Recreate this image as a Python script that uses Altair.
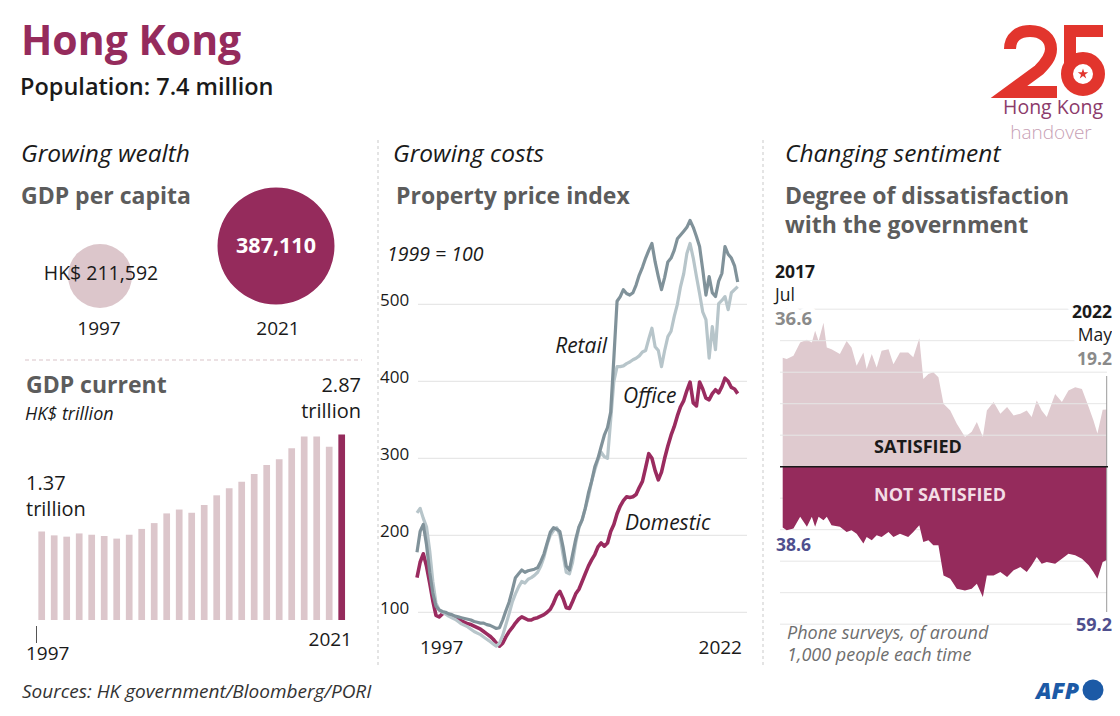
import altair as alt
import pandas as pd

# ---------------------------------------------------------------- data
gdp_pc_years = [1997, 2021]
gdp_pc_values = [211592, 387110]

gdp_years = list(range(1997, 2022))
gdp_trillion = [1.37, 1.31, 1.29, 1.34, 1.32, 1.30, 1.26, 1.32, 1.41, 1.50,
                1.65, 1.71, 1.66, 1.78, 1.93, 2.04, 2.14, 2.26, 2.40, 2.49,
                2.66, 2.84, 2.84, 2.68, 2.87]

# quarterly observations, 1997 Q1 .. 2022 Q2
prop_dates = [f"{y}-{m:02d}-01" for y in range(1997, 2023) for m in (1, 4, 7, 10)][:102]
domestic = [145, 165, 176, 160, 138, 115, 96, 94, 98, 99, 97, 95,
            94, 92, 89, 87, 85, 84, 82, 80, 78, 75, 72, 69,
            65, 60, 56, 60, 68, 75, 80, 86, 91, 94, 92, 90,
            90, 92, 93, 95, 97, 100, 104, 112, 122, 127, 118, 106,
            105, 114, 124, 130, 140, 150, 160, 168, 175, 185, 190, 186,
            190, 205, 214, 228, 238, 245, 250, 249, 250, 253, 262, 270,
            288, 306, 300, 284, 272, 282, 300, 316, 330, 341, 355, 367,
            375, 388, 399, 372, 368, 399, 390, 378, 376, 384, 389, 385,
            393, 404, 400, 392, 390, 384]
retail = [178, 205, 214, 188, 152, 125, 108, 103, 101, 100, 98, 97,
          95, 94, 93, 92, 91, 90, 88, 87, 86, 86, 84, 83,
          81, 79, 80, 90, 102, 113, 128, 145, 150, 155, 152, 154,
          155, 156, 158, 166, 176, 190, 204, 210, 208, 205, 185, 160,
          155, 175, 195, 211, 220, 235, 255, 270, 289, 300, 315, 330,
          340, 360, 430, 504, 510, 519, 514, 512, 515, 525, 538, 548,
          560, 570, 579, 555, 536, 519, 535, 555, 560, 570, 585, 590,
          595, 600, 609, 600, 588, 575, 545, 512, 536, 515, 510, 530,
          540, 575, 565, 560, 550, 529]
office = [229, 235, 222, 211, 180, 140, 112, 103, 100, 98, 95, 93,
          91, 88, 85, 83, 81, 78, 75, 73, 71, 68, 65, 62,
          59, 56, 60, 70, 84, 98, 113, 124, 133, 140, 138, 143,
          145, 148, 152, 160, 172, 188, 200, 206, 210, 200, 175, 152,
          150, 165, 190, 210, 220, 235, 250, 270, 285, 298, 308, 302,
          300, 350, 400, 419, 419, 420, 423, 425, 428, 430, 433, 438,
          440, 455, 469, 445, 440, 419, 440, 458, 465, 484, 500, 523,
          540, 566, 579, 560, 536, 514, 490, 480, 430, 471, 441, 501,
          505, 510, 493, 515, 519, 523]
prop_grid = [100, 200, 300, 400, 500]

sent_dates = ["2017-07-01", "2017-07-23", "2017-08-29", "2017-10-05", "2017-11-11",
              "2017-12-08", "2017-12-26", "2018-01-14", "2018-02-10", "2018-02-28",
              "2018-03-26", "2018-05-11", "2018-06-17", "2018-07-14", "2018-08-11",
              "2018-09-17", "2018-10-05", "2018-11-02", "2018-11-29", "2018-12-26",
              "2019-02-02", "2019-03-01", "2019-04-06", "2019-05-21", "2019-06-18",
              "2019-07-21", "2019-08-12", "2019-09-09", "2019-10-06", "2019-11-03",
              "2019-12-01", "2020-01-07", "2020-02-12", "2020-03-28", "2020-05-04",
              "2020-06-01", "2020-07-04", "2020-07-26", "2020-09-01", "2020-10-08",
              "2020-11-14", "2020-12-20", "2021-01-26", "2021-03-02", "2021-03-29",
              "2021-04-26", "2021-05-23", "2021-06-20", "2021-08-05", "2021-09-11",
              "2021-10-17", "2021-11-23", "2021-12-30", "2022-02-05", "2022-03-03",
              "2022-03-25", "2022-04-23", "2022-05-15"]
satisfied = [36.6, 36.1, 37.2, 41.7, 42.6, 41.7, 45.6, 42.2, 48.3, 40.0,
             39.4, 37.8, 42.2, 40.0, 33.9, 38.3, 32.8, 37.8, 33.3, 38.9,
             39.4, 34.4, 38.3, 38.3, 36.7, 43.1, 29.4, 31.1, 31.7, 30.0,
             21.1, 18.9, 14.4, 10.0, 11.7, 15.0, 10.0, 18.9, 21.7, 17.8,
             20.0, 17.2, 17.8, 18.9, 16.7, 22.2, 18.9, 16.7, 24.4, 21.7,
             25.6, 26.7, 26.1, 20.0, 15.6, 11.1, 19.1, 19.2]
not_satisfied = [38.6, 40.3, 39.3, 31.8, 38.2, 31.8, 38.2, 31.8, 34.0, 31.8,
                 37.2, 38.2, 41.4, 40.3, 42.5, 48.8, 44.6, 46.7, 43.5, 44.6,
                 41.4, 44.6, 42.5, 44.6, 41.4, 37.2, 47.8, 46.7, 49.9, 49.9,
                 69.0, 71.1, 77.5, 78.6, 77.5, 74.3, 82.8, 69.0, 69.0, 66.9,
                 70.1, 65.8, 63.7, 66.9, 62.6, 57.3, 61.6, 60.5, 61.6, 58.4,
                 55.2, 56.3, 58.4, 62.6, 66.9, 71.1, 60.5, 59.2]
sent_grid = [-100, -80, -60, -40, -20, 20, 40, 60, 80, 100]

# ---------------------------------------------------------------- style
FONT = "Open Sans"
PURPLE = "#952b5c"
PINK = "#dcc6cb"
SATPINK = "#dfcacf"
HEAD = "#5c5c5c"
NAVY = "#4f4f8e"
INK = "#1a1a1a"
LOGORED = "#e2352d"
STAR = "M0,-1L0.22,-0.31L0.95,-0.31L0.36,0.12L0.59,0.81L0,0.38L-0.59,0.81L-0.36,0.12L-0.95,-0.31L-0.22,-0.31Z"
# stroke outlines of the "25" emblem, in pixels around its centre (symbol size 4 => 1 unit = 1px)
LOGO_TWO = "M-44,-12C-44,-24 -35,-30 -24,-30C-12,-30 -3,-23 -3,-12C-3,-4 -8,2 -15,9L-45,31L3,31"
LOGO_FIVE = ("M49,-30L10,-30M16,-30L16,3"
             "M13,13C13,4.16 20.16,-3 29,-3C37.84,-3 45,4.16 45,13"
             "C45,21.84 37.84,29 29,29C20.16,29 13,21.84 13,13Z")


def P(v):
    return v - 8


BLANK = alt.Data(values=[{}])


def text(s, x, y, size=18, weight="normal", style="normal", color=INK,
         align="left", halo=0, font=FONT, lh=None):
    props = dict(text=s, font=font, fontSize=size, fontWeight=weight,
                 fontStyle=style, align=align, baseline="alphabetic")
    if lh:
        props["lineHeight"] = lh
    enc = dict(x=alt.value(P(x)), y=alt.value(P(y)))
    out = []
    if halo:
        out.append(alt.Chart(BLANK).mark_text(fill="white", stroke="white",
                                              strokeWidth=halo, strokeJoin="round",
                                              **props).encode(**enc))
    out.append(alt.Chart(BLANK).mark_text(fill=color, **props).encode(**enc))
    return out


def vline(x, y1, y2, color, dash=None, width=1.0):
    kw = dict(color=color, strokeWidth=width)
    if dash:
        kw["strokeDash"] = dash
    return alt.Chart(BLANK).mark_rule(**kw).encode(
        x=alt.value(P(x)), y=alt.value(P(y1)), y2=alt.value(P(y2)))


def hline(y, x1, x2, color, dash=None, width=1.0):
    kw = dict(color=color, strokeWidth=width)
    if dash:
        kw["strokeDash"] = dash
    return alt.Chart(BLANK).mark_rule(**kw).encode(
        y=alt.value(P(y)), x=alt.value(P(x1)), x2=alt.value(P(x2)))


def dot(x, y, size, color, shape="circle", stroke=None):
    kw = dict(size=size, fill=color, filled=True, opacity=1, shape=shape)
    if stroke:
        kw["stroke"] = stroke
        kw["strokeWidth"] = 1
    else:
        kw["strokeWidth"] = 0
    return alt.Chart(BLANK).mark_point(**kw).encode(x=alt.value(P(x)), y=alt.value(P(y)))


def outline(x, y, path, color, width):
    return alt.Chart(BLANK).mark_point(
        shape=path, size=4, filled=False, fill=None, stroke=color, strokeWidth=width,
        strokeCap="butt", strokeJoin="miter", opacity=1).encode(
        x=alt.value(P(x)), y=alt.value(P(y)))


layers = []

# ---------------------------------------------------------------- header
layers += text("Hong Kong", 21, 55, size=41, weight="bold", color=PURPLE)
layers += text("Population: 7.4 million", 20, 95, size=23.5, weight=600)

# logo
layers.append(outline(1054, 61, LOGO_TWO, LOGORED, 12))
layers.append(outline(1054, 61, LOGO_FIVE, LOGORED, 12))
layers.append(dot(1083, 74, 300, "white"))
layers.append(dot(1083, 74, 120, LOGORED, shape=STAR))
layers += text("Hong Kong", 1053, 113.5, size=19.5, color="#8c3b6b", align="center")
layers += text("handover", 1051, 138.5, size=19, weight=300, color="#c7a0b4",
               align="center")

# separators
layers.append(vline(378, 140, 665, "#c9c9c9", dash=[3, 3]))
layers.append(vline(763, 140, 665, "#c9c9c9", dash=[3, 3]))
layers.append(hline(360, 25, 362, "#d9c3c8", dash=[4, 3]))

# ---------------------------------------------------------------- left panel
layers += text("Growing wealth", 21, 162, size=24.5, style="italic")
layers += text("GDP per capita", 21, 204, size=23, weight="bold", color=HEAD)

pc_df = pd.DataFrame({"year": gdp_pc_years, "value": gdp_pc_values})
circles = alt.Chart(pc_df).mark_circle(opacity=1).encode(
    x=alt.X("year:Q", scale=alt.Scale(domain=[1997, 2021], range=[P(100), P(276)]), axis=None),
    y=alt.Y("value:Q", scale=alt.Scale(domain=[0, 387110], range=[P(312), P(246)]), axis=None),
    size=alt.Size("value:Q", scale=alt.Scale(type="pow", exponent=2, domain=[0, 387110],
                                             range=[0, 13685]), legend=None),
    color=alt.condition(alt.datum.year == 2021, alt.value(PURPLE), alt.value(PINK)),
)
layers.append(circles)
layers += text("HK$ 211,592", 101, 280, size=19.5, align="center")
layers += text("387,110", 276, 253, size=21.5, weight="bold", color="white", align="center")
layers += text("1997", 99, 335, size=19, align="center")
layers += text("2021", 278, 335, size=19, align="center")

layers += text("GDP current", 26, 393, size=23, weight="bold", color=HEAD)
layers += text("HK$ trillion", 25, 420, size=18, style="italic")
layers += text("2.87", 361, 392, size=20, align="right")
layers += text("trillion", 361, 418, size=20, align="right")
layers += text("1.37", 26, 490, size=20)
layers += text("trillion", 26, 516, size=20)

gdp_df = pd.DataFrame({"year": gdp_years, "gdp": gdp_trillion})
bars = alt.Chart(gdp_df).mark_bar(size=6.7).encode(
    x=alt.X("year:Q", scale=alt.Scale(domain=[1997, 2021], range=[P(36.7), P(346.7)]), axis=None),
    y=alt.Y("gdp:Q", scale=alt.Scale(domain=[0, 3], range=[P(620), P(620 - 193.8)]), axis=None),
    color=alt.condition(alt.datum.year == 2021, alt.value(PURPLE), alt.value(PINK)),
)
layers.append(bars)
layers.append(vline(36.5, 626, 643, "#555555"))
layers += text("1997", 26, 660, size=19)
layers += text("2021", 352, 646, size=19, align="right")

# ---------------------------------------------------------------- middle panel
layers += text("Growing costs", 393, 162, size=24.5, style="italic")
layers += text("Property price index", 396, 204, size=23, weight="bold", color=HEAD)
layers += text("1999 = 100", 387, 261, size=19.5, style="italic")

prop_df = pd.DataFrame({
    "date": prop_dates * 3,
    "series": ["Domestic"] * len(domestic) + ["Retail"] * len(retail) + ["Office"] * len(office),
    "value": domestic + retail + office,
})
px = alt.Scale(range=[P(417), P(737.7)], nice=False)
py = alt.Scale(domain=[0, 700], range=[P(689.3), P(689.3 - 539)])
grid_df = pd.DataFrame({"v": prop_grid})
pgrid = alt.Chart(grid_df).mark_rule(color="#e2e2e2").encode(
    y=alt.Y("v:Q", scale=py, axis=None), x=alt.value(P(418)), x2=alt.value(P(747)))
pticks = alt.Chart(grid_df).mark_text(align="left", baseline="middle", dy=-3, font=FONT,
                                      fontSize=17, fill=INK).encode(
    y=alt.Y("v:Q", scale=py, axis=None), x=alt.value(P(380)), text="v:Q")


def pline(name, color, w):
    return alt.Chart(prop_df).transform_filter(alt.datum.series == name).mark_line(
        color=color, strokeWidth=w, strokeJoin="round").encode(
        x=alt.X("date:T", scale=px, axis=None),
        y=alt.Y("value:Q", scale=py, axis=None))


layers.append(alt.layer(pgrid, pticks,
                        pline("Domestic", "#9a2b5f", 3.6),
                        pline("Office", "#b7c5ca", 3.2),
                        pline("Retail", "#80929a", 3.2)))
layers += text("Retail", 607, 353, size=21, style="italic", align="right")
layers += text("Office", 623, 403, size=21, style="italic")
layers += text("Domestic", 625, 530, size=21, style="italic")
layers += text("1997", 420, 654, size=19)
layers += text("2022", 742, 654, size=19, align="right")

# ---------------------------------------------------------------- right panel
layers += text("Changing sentiment", 785, 162, size=24.5, style="italic")
layers += text("Degree of dissatisfaction", 785, 204, size=23, weight="bold", color=HEAD)
layers += text("with the government", 785, 233, size=23, weight="bold", color=HEAD)

sent_df = pd.DataFrame({"date": sent_dates, "satisfied": satisfied,
                        "not_satisfied": not_satisfied})
sx = alt.Scale(range=[P(782.7), P(1106.7)], nice=False)
sat_area = alt.Chart(sent_df).mark_area(color=SATPINK).encode(
    x=alt.X("date:T", scale=sx, axis=None),
    y=alt.Y("satisfied:Q", scale=alt.Scale(domain=[0, 50], range=[P(466.7), P(466.7 - 149)]),
            axis=None))
sgrid = alt.Chart(pd.DataFrame({"g": sent_grid})).mark_rule(color="#e6e6e6").encode(
    y=alt.Y("g:Q", scale=alt.Scale(domain=[-100, 100],
                                   range=[P(466.7 + 157.5), P(466.7 - 157.5)]), axis=None),
    x=alt.value(P(780)), x2=alt.value(P(1107)))
dis_area = alt.Chart(sent_df).mark_area(color=PURPLE).encode(
    x=alt.X("date:T", scale=sx, axis=None),
    y=alt.Y("not_satisfied:Q", scale=alt.Scale(domain=[0, 100],
                                               range=[P(466.7), P(466.7 + 157.5)]),
            axis=None))
end_rule = alt.Chart(pd.DataFrame({"date": [sent_dates[-1]]})).mark_rule(
    color="#9a9a9a", strokeWidth=1).encode(
    x=alt.X("date:T", scale=sx, axis=None), y=alt.value(P(376)), y2=alt.value(P(612)))
layers.append(alt.layer(sat_area, sgrid, dis_area, end_rule).resolve_scale(y="independent"))
layers.append(hline(466.7, 780, 1108, INK, width=1.6))

layers += text("2017", 775, 278, size=17.5, weight="bold")
layers += text("Jul", 775, 301, size=17.5)
layers += text("36.6", 775, 325, size=18.5, weight="bold", color="#8a8a8a", halo=10)
layers += text("2022", 1112, 318, size=17.5, weight="bold", align="right", halo=10)
layers += text("May", 1112, 341, size=17.5, align="right", halo=10)
layers += text("19.2", 1112, 365, size=17.5, weight="bold", color="#8a8a8a", align="right")
layers += text("SATISFIED", 918, 453, size=18, weight="bold", align="center")
layers += text("NOT SATISFIED", 940, 501, size=18, weight="bold", color="#f3dde5",
               align="center")
layers += text("38.6", 776, 551, size=17.5, weight="bold", color=NAVY)
layers += text("59.2", 1112, 631, size=18, weight="bold", color=NAVY, align="right", halo=10)
layers += text("Phone surveys, of around", 787, 639, size=18, style="italic", color="#6e6e6e")
layers += text("1,000 people each time", 787, 661, size=18, style="italic", color="#6e6e6e")

# ---------------------------------------------------------------- footer
layers += text("Sources: HK government/Bloomberg/PORI", 22, 698, size=19, style="italic",
               color="#333333")
layers += text("AFP", 1079, 699, size=23, weight=800, style="italic", color="#1c5aa6",
               align="right")
layers.append(dot(1093, 690, 440, "#1c5aa6"))

chart = alt.layer(*layers).resolve_scale(
    x="independent", y="independent", color="independent", size="independent"
).properties(
    width=1104, height=700, padding=0,
    autosize=alt.AutoSizeParams(type="none"), background="white",
).configure_view(stroke=None)

chart.save("out.html", embed_options={"renderer": "svg", "actions": False})
